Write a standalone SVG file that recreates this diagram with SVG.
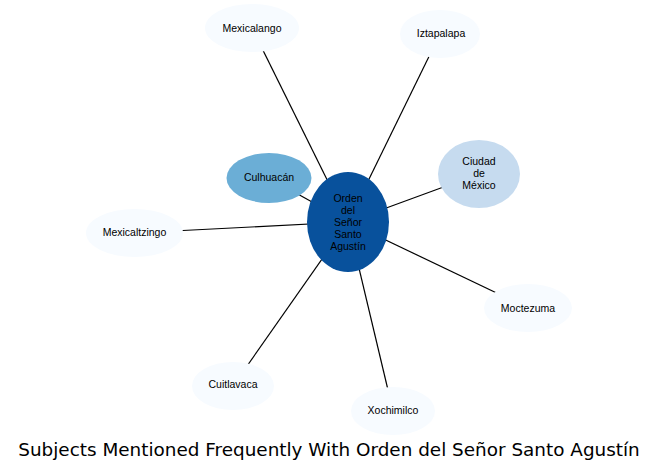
<svg xmlns="http://www.w3.org/2000/svg" width="659" height="471" viewBox="0 0 659 471">
<style>
.edge{stroke:#000;stroke-width:1.2;fill:none}
.lbl{font-family:"Liberation Sans",Arial,sans-serif;font-size:10.5px;fill:#000;text-anchor:middle}
.pale{fill:#f7fbff}
.title{font-family:"DejaVu Sans",sans-serif;font-size:18.4px;fill:#000;text-anchor:middle}
</style>
<rect width="659" height="471" fill="#fff"/>
<g id="connectors">
<line class="edge" x1="348" y1="222" x2="252" y2="28"/>
<line class="edge" x1="348" y1="222" x2="440" y2="34"/>
<line class="edge" x1="348" y1="222" x2="479" y2="174"/>
<line class="edge" x1="348" y1="222" x2="528" y2="308"/>
<line class="edge" x1="348" y1="222" x2="393" y2="411"/>
<line class="edge" x1="348" y1="222" x2="233" y2="386"/>
<line class="edge" x1="348" y1="222" x2="134" y2="233"/>
<line class="edge" x1="348" y1="222" x2="269" y2="178"/>
</g>
<g id="mexicalango"><ellipse class="pale" cx="252" cy="28" rx="47" ry="24"/><text class="lbl" x="252" y="32">Mexicalango</text></g>
<g id="iztapalapa"><ellipse class="pale" cx="440" cy="34" rx="40" ry="24"/><text class="lbl" x="441" y="37">Iztapalapa</text></g>
<g id="culhuacan"><ellipse fill="#6baed6" cx="269" cy="178" rx="42.5" ry="25"/><text class="lbl" x="269" y="181">Culhuacán</text></g>
<g id="ciudad"><ellipse fill="#c6dbef" cx="479" cy="174" rx="41" ry="34"/><text class="lbl" x="479" y="165">Ciudad</text><text class="lbl" x="479" y="177">de</text><text class="lbl" x="479" y="189">México</text></g>
<g id="mexicaltzingo"><ellipse class="pale" cx="134.5" cy="233" rx="48.5" ry="24"/><text class="lbl" x="134.5" y="236">Mexicaltzingo</text></g>
<g id="moctezuma"><ellipse class="pale" cx="528" cy="308" rx="44" ry="24"/><text class="lbl" x="528" y="312">Moctezuma</text></g>
<g id="cuitlavaca"><ellipse class="pale" cx="233" cy="386" rx="41" ry="24"/><text class="lbl" x="233" y="388">Cuitlavaca</text></g>
<g id="xochimilco"><ellipse class="pale" cx="393" cy="411" rx="42" ry="24"/><text class="lbl" x="393" y="414">Xochimilco</text></g>
<g id="center"><ellipse fill="#08519c" cx="348" cy="222" rx="41" ry="50"/>
<text class="lbl" x="348" y="202">Orden</text><text class="lbl" x="348" y="214">del</text><text class="lbl" x="348" y="226">Señor</text><text class="lbl" x="348" y="238">Santo</text><text class="lbl" x="348" y="250">Agustín</text></g>
<text class="title" x="329" y="456">Subjects Mentioned Frequently With Orden del Señor Santo Agustín</text>
</svg>
